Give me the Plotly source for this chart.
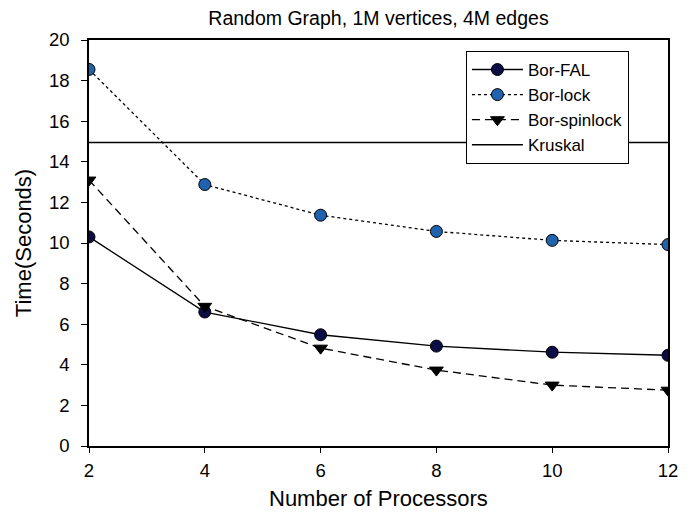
import plotly.graph_objects as go

processors = [2, 4, 6, 8, 10, 12]
bor_fal = [10.3, 6.6, 5.48, 4.92, 4.62, 4.47]
bor_lock = [18.55, 12.88, 11.37, 10.57, 10.13, 9.92]
bor_spinlock = [13.1, 6.88, 4.82, 3.74, 3.0, 2.75]
kruskal = [14.95, 14.95, 14.95, 14.95, 14.95, 14.95]

FONT = "Liberation Sans, Arial, sans-serif"

fig = go.Figure()
fig.add_trace(go.Scatter(
    x=processors, y=bor_fal, name="Bor-FAL", mode="lines+markers",
    line=dict(color="black", width=1.3, dash="solid"),
    marker=dict(symbol="circle", size=12, color="#0d0d45", line=dict(color="black", width=1))))
fig.add_trace(go.Scatter(
    x=processors, y=bor_lock, name="Bor-lock", mode="lines+markers",
    line=dict(color="black", width=1.3, dash="dot"),
    marker=dict(symbol="circle", size=12, color="#1f62ad", line=dict(color="black", width=1))))
fig.add_trace(go.Scatter(
    x=processors, y=bor_spinlock, name="Bor-spinlock", mode="lines+markers",
    line=dict(color="black", width=1.3, dash="8px,5px"),
    marker=dict(symbol="triangle-down", size=12, color="black", line=dict(color="black", width=1))))
fig.add_trace(go.Scatter(
    x=processors, y=kruskal, name="Kruskal", mode="lines",
    line=dict(color="black", width=1.5)))

# page body has an 8px margin, so the figure is sized/offset to land on the reference pixels
fig.update_layout(
    width=684, height=507,
    margin=dict(l=81, r=24, t=32, b=69),
    paper_bgcolor="white", plot_bgcolor="white",
    font=dict(family=FONT, color="black", size=18),
    title=dict(text="Random Graph, 1M vertices, 4M edges", xref="paper", x=0.5, xanchor="center",
               y=0.979, yanchor="middle", font=dict(size=19.5, family=FONT, color="black")),
    legend=dict(x=0.651, y=0.973, xanchor="left", yanchor="top",
                bgcolor="white", bordercolor="black", borderwidth=1,
                font=dict(size=17, family=FONT, color="black"),
                itemwidth=51, tracegroupgap=0),
    showlegend=True,
    annotations=[dict(text="Number of Processors", xref="paper", yref="paper",
                      x=0.5, y=0, xanchor="center", yanchor="middle", yshift=-52,
                      showarrow=False, font=dict(size=22, family=FONT, color="black"))],
)
fig.update_xaxes(range=[2, 12], tickvals=processors, ticks="outside", ticklen=5,
                 tickcolor="black", showline=True, linecolor="black", linewidth=1.5,
                 mirror=True, showgrid=False, zeroline=False, automargin=False,
                 ticklabelstandoff=2,
                 tickfont=dict(size=18.5, family=FONT))
fig.update_yaxes(range=[0, 20], dtick=2, ticks="outside", ticklen=6,
                 tickcolor="black", showline=True, linecolor="black", linewidth=1.5,
                 mirror=True, showgrid=False, zeroline=False, automargin=False,
                 ticklabelstandoff=8,
                 title=dict(text="Time(Seconds)", font=dict(size=22, family=FONT), standoff=11),
                 tickfont=dict(size=18.5, family=FONT))

fig.write_html("out.html")
